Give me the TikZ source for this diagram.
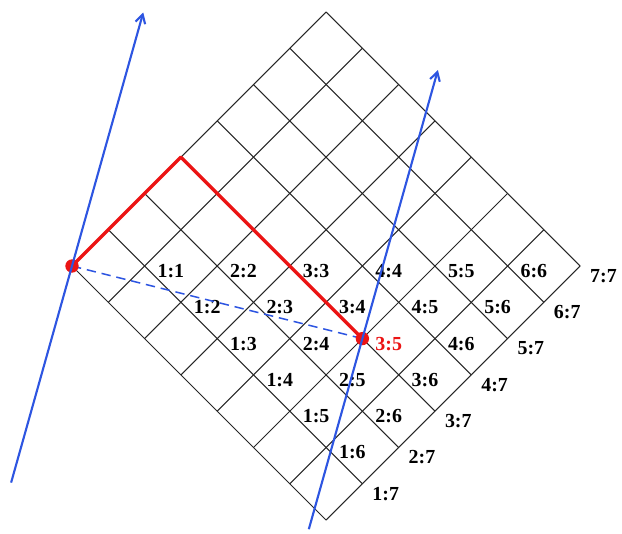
\documentclass[tikz,border=0pt]{standalone}
\usepackage{fontspec}
\setmainfont{Liberation Serif}
\usetikzlibrary{calc,arrows.meta}
\definecolor{lineblue}{RGB}{45,85,225}
\definecolor{pathred}{RGB}{235,20,20}

\begin{document}
\begin{tikzpicture}[x=1cm,y=1cm,
  g/.style={draw=black!85,line width=0.9pt},
  rp/.style={draw=pathred,line width=2.8pt,line join=round},
  bl/.style={draw=lineblue,line width=1.8pt,-{Straight Barb[length=2.6mm,width=3mm]}},
  bd/.style={draw=lineblue,line width=1.3pt,dash pattern=on 8pt off 5pt},
  dot/.style={circle,fill=pathred,minimum size=4mm,inner sep=0pt},
  lab/.style={font=\fontsize{17}{19}\selectfont\bfseries,inner sep=0pt}]
  \useasboundingbox (0,0) rectangle (18.66,-15.99);
  % 7x7 cells turned by 45 degrees; v0-0 is the left corner
  \begin{scope}[shift={(2.16,-7.98)},rotate=-45,x=1.54cm,y=1.54cm]
    \foreach \a in {0,...,7} \foreach \b in {0,...,7} \coordinate (v\a-\b) at (\a,\b);
    \foreach \a in {0,...,7} \foreach \b in {0,...,7} \coordinate (c\a-\b) at (\a+0.5,\b+0.5);
    \foreach \k in {0,...,7} { \draw[g] (v\k-0) -- (v\k-7); \draw[g] (v0-\k) -- (v7-\k); }
  \end{scope}
  % cell labels i:j sit in cell (j,i); the j=7 ones fall outside the grid
  \foreach \i in {1,...,7} {
    \foreach \j in {\i,...,7} {
      \ifnum\numexpr\i*10+\j\relax=35 \def\tc{pathred}\else\def\tc{black}\fi
      \ifnum\j=7 \def\dy{-0.30}\def\dx{-0.39}\else\def\dy{-0.15}\def\dx{-0.30}\fi
      \node[lab,text=\tc] (t\i-\j) at ($(c\j-\i)+(\dx,\dy)$) {\i:\j};
    }
  }
  % path from the corner to cell 3:5
  \draw[bd] (v0-0) -- (v5-3);
  \draw[rp] (v0-0) -- (v0-3) -- (v5-3);
  \node[dot] (s) at (v0-0) {};
  \node[dot] (e) at (v5-3) {};
  % two parallel lines through the end points
  \coordinate (a1) at ($(s)+(254.3:6.75)$);
  \coordinate (b1) at ($(s)+(74.3:7.9)$);
  \coordinate (a2) at ($(e)+(254.3:5.94)$);
  \coordinate (b2) at ($(e)+(74.3:8.37)$);
  \draw[bl] (a1) -- (b1);
  \draw[bl] (a2) -- (b2);
\end{tikzpicture}
\end{document}
